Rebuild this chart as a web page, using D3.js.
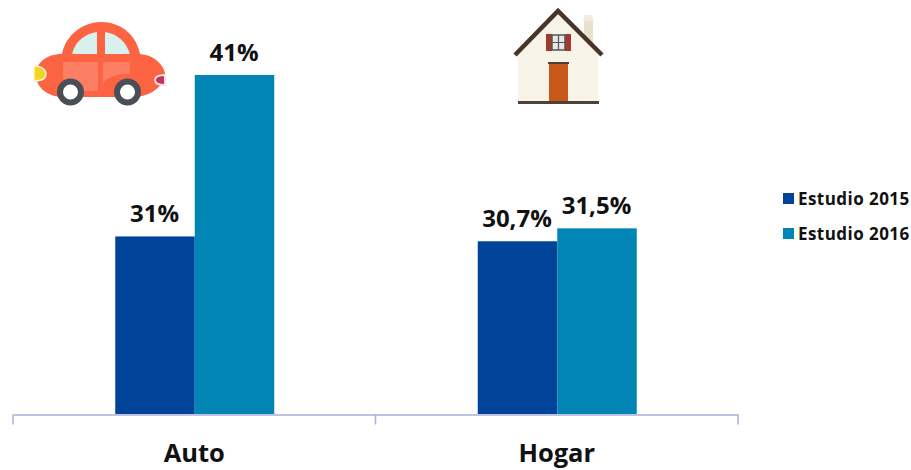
<!DOCTYPE html>
<html>
<head>
<meta charset="utf-8">
<script src="https://cdn.jsdelivr.net/npm/d3@7"></script>
<style>
  html, body { margin: 0; padding: 0; background: #fff; }
  text { font-family: "Open Sans", sans-serif; fill: #111; }
</style>
</head>
<body>
<div id="chart"></div>
<script>
const categories = ["Auto", "Hogar"];
const seriesNames = ["Estudio 2015", "Estudio 2016"];
const values2015 = [31, 30.7];
const values2016 = [41, 31.5];
const labels2015 = ["31%", "30,7%"];
const labels2016 = ["41%", "31,5%"];
const colors = ["#004499", "#0085b5"];

const width = 911, height = 470;
const svg = d3.select("#chart").append("svg")
  .attr("width", width)
  .attr("height", height)
  .style("display", "block");

// the axis of the original does not start at zero
const x = d3.scaleBand().domain(categories).range([13, 738]);
const series = d3.scaleBand().domain(seriesNames).range([0, 159]);
const y = d3.scaleLinear().domain([20, 41]).range([414, 75]);

const groups = svg.selectAll(".group")
  .data(categories)
  .join("g")
  .attr("class", "group")
  .attr("transform", d => `translate(${x(d) + x.bandwidth() / 2 - 79},0)`);

[values2015, values2016].forEach((vals, s) => {
  const labels = s === 0 ? labels2015 : labels2016;
  groups.append("rect")
    .attr("x", series(seriesNames[s]))
    .attr("width", series.bandwidth())
    .attr("y", (d, i) => y(vals[i]))
    .attr("height", (d, i) => y.range()[0] - y(vals[i]))
    .attr("fill", colors[s]);
  groups.append("text")
    .attr("x", series(seriesNames[s]) + series.bandwidth() / 2 - 0.5)
    .attr("y", (d, i) => y(vals[i]) - 14)
    .attr("text-anchor", "middle")
    .attr("font-size", 24)
    .attr("font-weight", 700)
    .text((d, i) => labels[i]);
});

// axis
const axis = d3.axisBottom(x).tickSize(0).tickPadding(0);
const axisG = svg.append("g").attr("transform", "translate(0,414.5)").call(axis);
axisG.select(".domain").attr("stroke", "#a9b0d6").attr("stroke-width", 1.5);
axisG.selectAll("text")
  .attr("y", 47.5)
  .attr("dy", 0)
  .attr("font-size", 25.5)
  .attr("font-weight", 700)
  .style("font-family", '"Open Sans", sans-serif')
  .attr("fill", "#111");
const edges = [x.range()[0], x(categories[1]), x.range()[1]];
axisG.selectAll(".edge")
  .data(edges)
  .join("line")
  .attr("class", "edge")
  .attr("x1", d => d).attr("x2", d => d)
  .attr("y1", 0).attr("y2", 10)
  .attr("stroke", "#a9b0d6")
  .attr("stroke-width", 1.5);

// legend
const legend = svg.selectAll(".legend")
  .data(seriesNames)
  .join("g")
  .attr("class", "legend")
  .attr("transform", (d, i) => `translate(783,${193 + i * 35})`);
legend.append("rect")
  .attr("width", 11).attr("height", 11)
  .attr("fill", (d, i) => colors[i]);
legend.append("text")
  .attr("x", 15).attr("y", 12)
  .attr("font-size", 17)
  .attr("font-weight", 700)
  .attr("letter-spacing", 0.45)
  .text(d => d);

// car icon
const car = svg.append("g");
car.append("path").attr("fill", "#fb6342")
  .attr("d", "M62 54 C66 34 84 22 101 22 C120 22 136 34 140 54 C152 55 162 62 165 73 C163 88 150 96 135 97 L60 97 C45 95 36 86 36 75 C36 63 46 54 62 54 Z");
car.append("path").attr("fill", "#d9f1ec").attr("d", "M72 54 C75 42 84 34 97 32 L97 54 Z");
car.append("path").attr("fill", "#d9f1ec").attr("d", "M105 32 C118 34 126 42 130 54 L105 54 Z");
car.append("path").attr("fill", "#fd7f63").attr("d", "M63 62 H98 V91 H72 C66 86 63 80 63 76 Z");
car.append("path").attr("fill", "#fd7f63").attr("d", "M103 62 H130 V74 C118 74 108 76 103 84 Z");
car.append("path").attr("fill", "#f2d61e").attr("stroke", "#fdf3d0").attr("stroke-width", 1.5).attr("d", "M34 66 C42 66 46 70 46 74 C46 78 42 81 34 81 Z");
car.append("path").attr("fill", "#c4325c").attr("stroke", "#f6e2e2").attr("stroke-width", 2).attr("d", "M165 75 C158 75 155 77 155 80 C155 83 158 85 165 85 Z");
[70.5, 127.5].forEach(cx => {
  car.append("circle").attr("cx", cx).attr("cy", 92).attr("r", 10.5).attr("fill", "#fff").attr("stroke", "#4a4f57").attr("stroke-width", 6);
});

// house icon
const house = svg.append("g");
house.append("path").attr("fill", "#e6e0cf").attr("d", "M584 20 H593 V45 H584 Z");
house.append("path").attr("fill", "#f0ebdc").attr("d", "M583 21 L585 15 H592 L594 21 Z");
house.append("path").attr("fill", "#f7f3e8").attr("d", "M558 13 L518 53 V102 H598 V53 Z");
house.append("path").attr("fill", "none").attr("stroke", "#463528").attr("stroke-width", 4.5).attr("d", "M515 55 L558 11 L602 55");
house.append("rect").attr("x", 518).attr("y", 101).attr("width", 81).attr("height", 3).attr("fill", "#4d4034");
house.append("rect").attr("x", 549).attr("y", 64).attr("width", 19).attr("height", 37).attr("fill", "#c8571a");
house.append("rect").attr("x", 548).attr("y", 62).attr("width", 21).attr("height", 2).attr("fill", "#4d4034");
house.append("rect").attr("x", 546).attr("y", 34).attr("width", 6).attr("height", 17).attr("fill", "#a3392a");
house.append("rect").attr("x", 565).attr("y", 34).attr("width", 6).attr("height", 17).attr("fill", "#a3392a");
house.append("rect").attr("x", 552).attr("y", 35).attr("width", 13).attr("height", 15).attr("fill", "#e4e8e8").attr("stroke", "#555").attr("stroke-width", 1.5);
house.append("path").attr("stroke", "#555").attr("stroke-width", 1.2).attr("d", "M558.5 35 V50 M552 42.5 H565");
</script>
</body>
</html>
